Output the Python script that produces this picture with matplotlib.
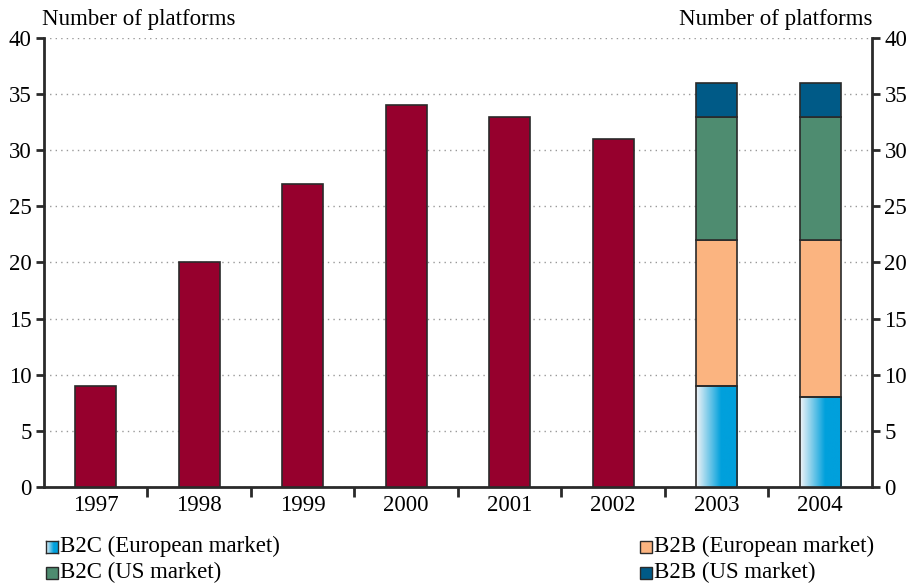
import numpy as np
import matplotlib.pyplot as plt
from matplotlib.patches import Rectangle
from matplotlib.colors import LinearSegmentedColormap

years = ["1997", "1998", "1999", "2000", "2001", "2002", "2003", "2004"]
total_platforms = [9, 20, 27, 34, 33, 31]
b2c_europe = [9, 8]
b2b_europe = [13, 14]
b2c_us = [11, 11]
b2b_us = [3, 3]
legend_labels = ["B2C (European market)", "B2B (European market)",
                 "B2C (US market)", "B2B (US market)"]

maroon = "#96002d"
orange = "#fbb480"
green = "#4e8c70"
navy = "#005a87"
edge = "#2a2a2a"
grad = LinearSegmentedColormap.from_list(
    "grad", [(0.0, "#f2f4f7"), (0.6, "#00a0dc"), (1.0, "#00a0dc")])

plt.rcParams["font.family"] = ["Liberation Serif", "DejaVu Serif"]
fs = 16.5

fig = plt.figure(figsize=(9.07, 5.83), dpi=100)
ax = fig.add_axes([0.0485, 0.1647, 0.9129, 0.7701])
width = 0.4

x = np.arange(len(years))
ax.bar(x[:6], total_platforms, width, color=maroon, edgecolor=edge,
       linewidth=1.2, zorder=3)

grad_img = np.linspace(0, 1, 256).reshape(1, -1)
x2 = x[6:]
for xi, v in zip(x2, b2c_europe):
    rect = Rectangle((xi - width / 2, 0), width, v, facecolor="none",
                     edgecolor=edge, linewidth=1.2, zorder=4)
    ax.add_patch(rect)
    im = ax.imshow(grad_img, cmap=grad, aspect="auto",
                   extent=(xi - width / 2, xi + width / 2, 0, v), zorder=3)
    im.set_clip_path(rect)

bottom = np.array(b2c_europe, dtype=float)
for vals, col in [(b2b_europe, orange), (b2c_us, green), (b2b_us, navy)]:
    ax.bar(x2, vals, width, bottom=bottom, color=col, edgecolor=edge,
           linewidth=1.2, zorder=3)
    bottom += np.array(vals)

ax.set_xlim(-0.5, len(years) - 0.5)
ax.set_ylim(0, 40)
ax.set_yticks(range(0, 41, 5))
ax.yaxis.grid(True, linestyle=(0, (1, 3)), color="#999999", linewidth=1)
ax.set_axisbelow(True)

ax.set_xticks(x)
ax.set_xticklabels(years, fontsize=fs)
ax.tick_params(axis="x", which="major", length=0, pad=6)
ax.set_xticks(np.arange(0.5, len(years) - 1, 1), minor=True)
ax.tick_params(axis="x", which="minor", length=7, width=2, color=edge,
               direction="out")

ax.tick_params(axis="y", labelsize=fs, length=6, width=2, color=edge,
               direction="out", left=True, right=True, labelright=True,
               pad=3)

for s in ["left", "right", "bottom"]:
    ax.spines[s].set_linewidth(2)
    ax.spines[s].set_color(edge)
ax.spines["top"].set_visible(False)

fig.text(0.046, 0.948, "Number of platforms", fontsize=fs, ha="left",
         va="bottom")
fig.text(0.962, 0.948, "Number of platforms", fontsize=fs, ha="right",
         va="bottom")

# legend drawn by hand, two rows under the axis
sq_w = 12 / 907
sq_h = 12 / 583
positions = [(0.051, 0.052), (0.706, 0.052), (0.051, 0.007), (0.706, 0.007)]
colors = [None, orange, green, navy]
for (px, py), lab, col in zip(positions, legend_labels, colors):
    if col is None:
        sax = fig.add_axes([px, py, sq_w, sq_h])
        sax.imshow(grad_img, cmap=grad, aspect="auto")
        sax.set_xticks([])
        sax.set_yticks([])
        for sp in sax.spines.values():
            sp.set_color(edge)
            sp.set_linewidth(1)
    else:
        fig.patches.append(Rectangle((px, py), sq_w, sq_h, facecolor=col,
                                     edgecolor=edge, linewidth=1,
                                     transform=fig.transFigure, figure=fig))
    fig.text(px + sq_w + 0.002, py + sq_h / 2, lab, fontsize=fs,
             ha="left", va="center")

fig.savefig("out.png", dpi=100)
